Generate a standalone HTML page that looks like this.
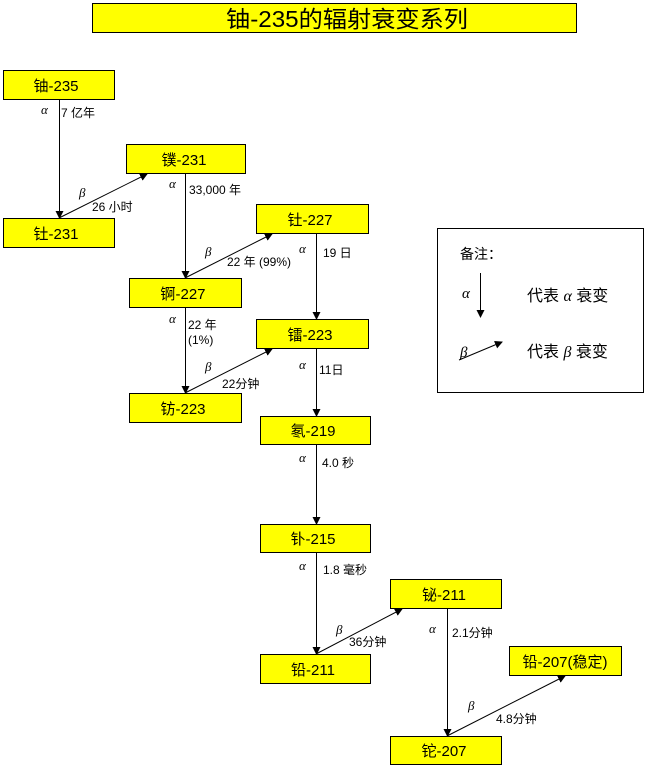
<!DOCTYPE html>
<html><head><meta charset="utf-8"><style>
html,body{margin:0;padding:0;background:#fff;}
svg{display:block;}
.bx{fill:#ffff00;stroke:#000;stroke-width:1;}
.t{font-family:"Liberation Sans","Noto Sans CJK SC",sans-serif;font-size:15px;fill:#000;text-anchor:middle;}
.l{font-family:"Liberation Sans","Noto Sans CJK SC",sans-serif;font-size:12px;fill:#000;}
.g{font-family:"Liberation Serif","DejaVu Serif",serif;font-style:italic;font-size:13px;fill:#000;}
.ln{stroke:#000;stroke-width:1;fill:none;}
</style></head><body>
<svg width="664" height="768" viewBox="0 0 664 768" xmlns="http://www.w3.org/2000/svg">
<defs>
<marker id="ah" markerWidth="8" markerHeight="8" refX="7" refY="4" orient="auto" markerUnits="userSpaceOnUse">
<path d="M0,0 L8,4 L0,8 z" fill="#000"/>
</marker>
</defs>
<rect x="0" y="0" width="664" height="768" fill="#fff"/>

<!-- title -->
<rect class="bx" x="92.5" y="3.5" width="484" height="29"/>
<text x="226" y="27" font-family="Liberation Sans, Noto Sans CJK SC, sans-serif" font-size="23" textLength="242" lengthAdjust="spacingAndGlyphs">铀-235的辐射衰变系列</text>

<!-- vertical lines -->
<line class="ln" x1="59.5" y1="100" x2="59.5" y2="218" marker-end="url(#ah)"/>
<line class="ln" x1="185.5" y1="174" x2="185.5" y2="278" marker-end="url(#ah)"/>
<line class="ln" x1="316.5" y1="234" x2="316.5" y2="319" marker-end="url(#ah)"/>
<line class="ln" x1="185.5" y1="308" x2="185.5" y2="393" marker-end="url(#ah)"/>
<line class="ln" x1="316.5" y1="349" x2="316.5" y2="416" marker-end="url(#ah)"/>
<line class="ln" x1="316.5" y1="445" x2="316.5" y2="524" marker-end="url(#ah)"/>
<line class="ln" x1="316.5" y1="553" x2="316.5" y2="654" marker-end="url(#ah)"/>
<line class="ln" x1="447.5" y1="609" x2="447.5" y2="736" marker-end="url(#ah)"/>

<!-- diagonal lines -->
<line class="ln" x1="59" y1="218" x2="147" y2="174" marker-end="url(#ah)"/>
<line class="ln" x1="185" y1="278" x2="272" y2="234" marker-end="url(#ah)"/>
<line class="ln" x1="185" y1="393" x2="272" y2="349" marker-end="url(#ah)"/>
<line class="ln" x1="316" y1="654" x2="402" y2="609" marker-end="url(#ah)"/>
<line class="ln" x1="447" y1="736" x2="565" y2="676" marker-end="url(#ah)"/>

<!-- boxes -->
<rect class="bx" x="3.5" y="70.5" width="111" height="29"/>
<text class="t" x="56" y="91">铀-235</text>
<rect class="bx" x="126.5" y="144.5" width="119" height="29"/>
<text class="t" x="184" y="165">镤-231</text>
<rect class="bx" x="3.5" y="218.5" width="111" height="29"/>
<text class="t" x="56" y="239">钍-231</text>
<rect class="bx" x="256.5" y="204.5" width="112" height="29"/>
<text class="t" x="310" y="225">钍-227</text>
<rect class="bx" x="129.5" y="278.5" width="112" height="29"/>
<text class="t" x="183" y="299">锕-227</text>
<rect class="bx" x="256.5" y="319.5" width="112" height="29"/>
<text class="t" x="310" y="340">镭-223</text>
<rect class="bx" x="129.5" y="393.5" width="112" height="29"/>
<text class="t" x="183" y="414">钫-223</text>
<rect class="bx" x="260.5" y="416.5" width="110" height="28"/>
<text class="t" x="313" y="436">氡-219</text>
<rect class="bx" x="260.5" y="524.5" width="110" height="28"/>
<text class="t" x="313" y="544">钋-215</text>
<rect class="bx" x="390.5" y="579.5" width="111" height="29"/>
<text class="t" x="444" y="600">铋-211</text>
<rect class="bx" x="260.5" y="654.5" width="110" height="29"/>
<text class="t" x="313" y="675">铅-211</text>
<rect class="bx" x="509.5" y="646.5" width="112" height="29"/>
<text class="t" x="565" y="667">铅-207(稳定)</text>
<rect class="bx" x="390.5" y="736.5" width="111" height="28"/>
<text class="t" x="444" y="756">铊-207</text>

<!-- labels -->
<text class="g" x="41" y="114">α</text>
<text class="l" x="61" y="117">7 亿年</text>
<text class="g" x="79" y="197">β</text>
<text class="l" x="92" y="211">26 小时</text>
<text class="g" x="169" y="188">α</text>
<text class="l" x="189" y="194">33,000 年</text>
<text class="g" x="205" y="256">β</text>
<text class="l" x="227" y="266">22 年 (99%)</text>
<text class="g" x="299" y="253">α</text>
<text class="l" x="323" y="257">19 日</text>
<text class="g" x="169" y="323">α</text>
<text class="l" x="188" y="329">22 年</text>
<text class="l" x="188" y="344">(1%)</text>
<text class="g" x="205" y="371">β</text>
<text class="l" x="222" y="388">22分钟</text>
<text class="g" x="299" y="369">α</text>
<text class="l" x="319" y="374">11日</text>
<text class="g" x="299" y="462">α</text>
<text class="l" x="322" y="467">4.0 秒</text>
<text class="g" x="299" y="570">α</text>
<text class="l" x="323" y="574">1.8 毫秒</text>
<text class="g" x="336" y="634">β</text>
<text class="l" x="349" y="646">36分钟</text>
<text class="g" x="429" y="633">α</text>
<text class="l" x="452" y="637">2.1分钟</text>
<text class="g" x="468" y="710">β</text>
<text class="l" x="496" y="723">4.8分钟</text>

<!-- legend -->
<rect x="437.5" y="228.5" width="206" height="164" fill="#fff" stroke="#000" stroke-width="1"/>
<text class="l" x="460" y="259" style="font-size:14px">备注：</text>
<line class="ln" x1="480.5" y1="273" x2="480.5" y2="317" marker-end="url(#ah)"/>
<text class="g" x="462" y="298" style="font-size:15px">α</text>
<text class="l" x="527" y="301" style="font-size:16px">代表 <tspan style="font-family:'Liberation Serif',serif;font-style:italic">α</tspan> 衰变</text>
<line class="ln" x1="459" y1="360" x2="502" y2="342" marker-end="url(#ah)"/>
<text class="g" x="460" y="357" style="font-size:15px">β</text>
<text class="l" x="527" y="357" style="font-size:16px">代表 <tspan style="font-family:'Liberation Serif',serif;font-style:italic">β</tspan> 衰变</text>
</svg>
</body></html>
